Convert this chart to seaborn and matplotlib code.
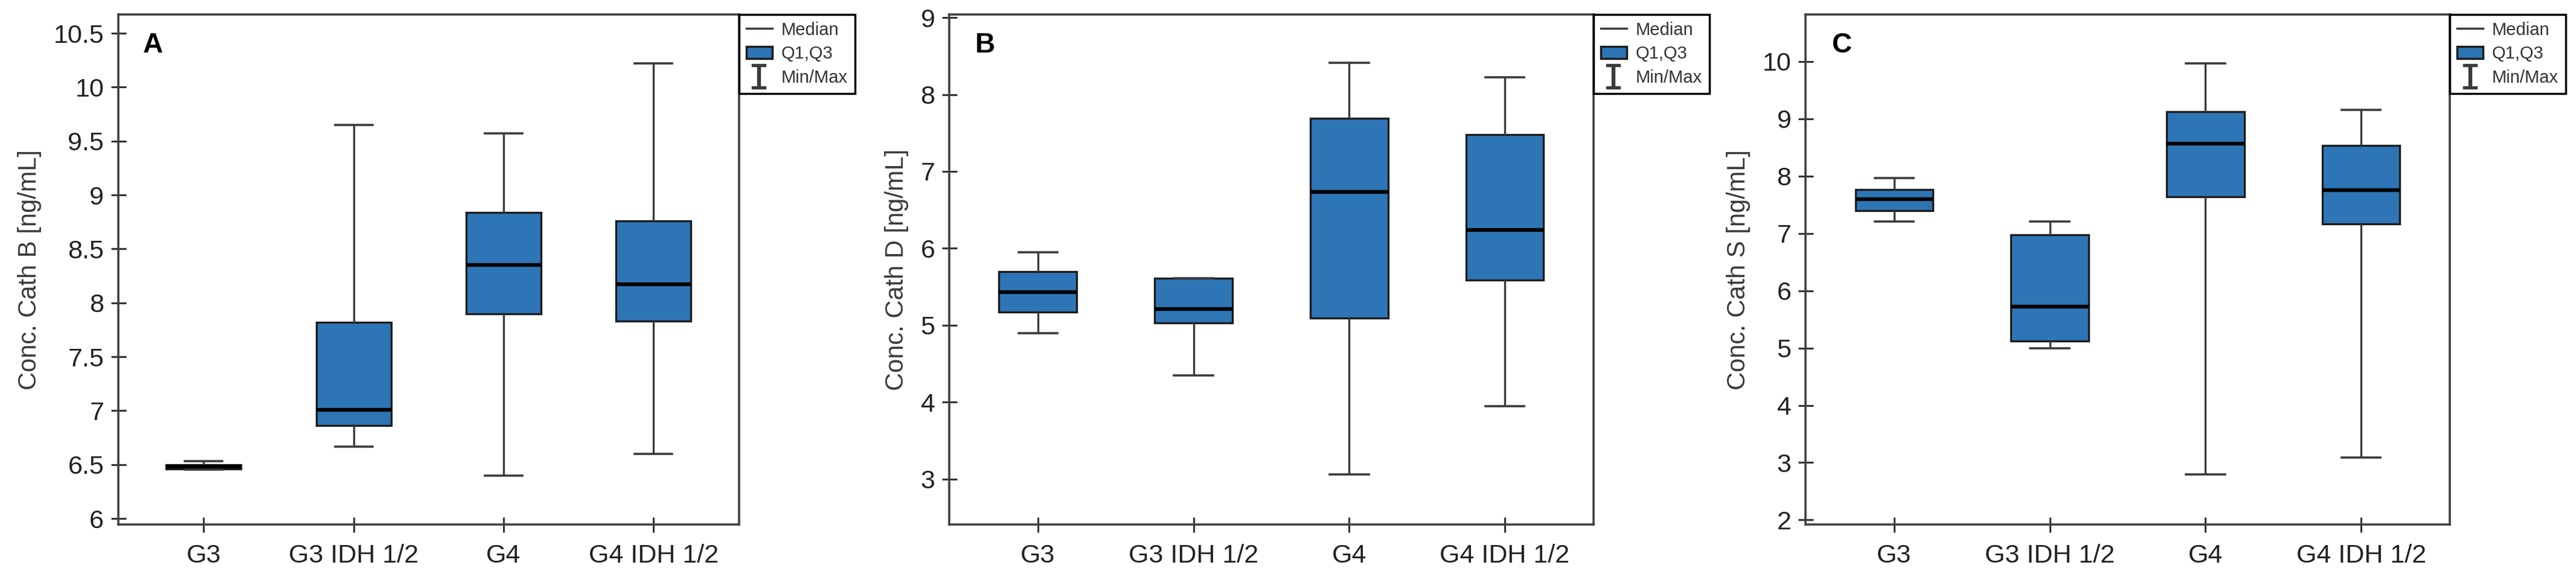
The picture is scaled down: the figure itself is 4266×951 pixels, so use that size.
import pandas as pd
import seaborn as sns
import matplotlib.pyplot as plt
from matplotlib.lines import Line2D
from matplotlib.patches import Patch
from matplotlib.ticker import FormatStrFormatter, MultipleLocator

# groups on the x axis
groups = ['G3', 'G3 IDH 1/2', 'G4', 'G4 IDH 1/2']

# five-number summaries per group: min, Q1, median, Q3, max
cath_b = [[6.455, 6.46, 6.48, 6.50, 6.53],
          [6.665, 6.86, 7.01, 7.82, 9.65],
          [6.40, 7.90, 8.35, 8.84, 9.57],
          [6.60, 7.83, 8.17, 8.76, 10.22]]
cath_d = [[4.90, 5.17, 5.43, 5.70, 5.95],
          [4.35, 5.03, 5.21, 5.61, 5.61],
          [3.06, 5.09, 6.73, 7.69, 8.41],
          [3.95, 5.59, 6.24, 7.48, 8.22]]
cath_s = [[7.21, 7.40, 7.60, 7.77, 7.97],
          [5.00, 5.12, 5.72, 6.98, 7.21],
          [2.79, 7.64, 8.57, 9.12, 9.97],
          [3.09, 7.16, 7.75, 8.53, 9.16]]

panel_letters = ['A', 'B', 'C']
y_labels = ['Conc. Cath B [ng/mL]', 'Conc. Cath D [ng/mL]', 'Conc. Cath S [ng/mL]']
legend_labels = ['Median', 'Q1,Q3', 'Min/Max']

box_color = '#2E75B6'
edge_color = '#1c1c1c'
line_gray = '#3a3a3a'

plt.rcParams['font.family'] = ['Liberation Sans', 'DejaVu Sans']

fig = plt.figure(figsize=(42.66, 9.51), dpi=100)

# axes placement (figure fractions)
panel_pos = [[0.0459, 0.0862, 0.2410, 0.8886],
             [0.3685, 0.0862, 0.2501, 0.8886],
             [0.7009, 0.0862, 0.2501, 0.8886]]
y_limits = [(5.944, 10.674), (2.41, 9.04), (1.92, 10.82)]
y_steps = [0.5, 1, 1]


def make_df(stats):
    rows = []
    for g, vals in zip(groups, stats):
        for v in vals:
            rows.append({'group': g, 'value': v})
    return pd.DataFrame(rows)


for i, stats in enumerate([cath_b, cath_d, cath_s]):
    ax = fig.add_axes(panel_pos[i])
    df = make_df(stats)
    sns.boxplot(data=df, x='group', y='value', order=groups, ax=ax,
                whis=(0, 100), width=0.5, color=box_color, saturation=1,
                linecolor=edge_color, linewidth=2.4, fliersize=0,
                medianprops=dict(color='black', linewidth=4.5),
                whiskerprops=dict(color=line_gray, linewidth=2.4),
                capprops=dict(color=line_gray, linewidth=2.6))

    ax.set_xlim(-0.57, 3.57)
    ax.set_ylim(*y_limits[i])
    ax.yaxis.set_major_locator(MultipleLocator(y_steps[i]))
    ax.yaxis.set_major_formatter(FormatStrFormatter('%g'))
    ax.set_xlabel('')
    ax.set_ylabel(y_labels[i], fontsize=30, color='#3a3a3a', labelpad=14)
    ax.tick_params(axis='both', direction='inout', length=18, width=2.2,
                   color='#333333', labelsize=31, labelcolor='#222222', pad=8)
    ax.tick_params(axis='x', pad=14)
    for side in ['top', 'right', 'bottom', 'left']:
        ax.spines[side].set_visible(True)
        ax.spines[side].set_linewidth(2.6)
        ax.spines[side].set_color('#404040')

    ax.text(0.04, 0.966, panel_letters[i], transform=ax.transAxes,
            fontsize=33, fontweight='bold', ha='left', va='top', color='black')

    handles = [Line2D([], [], color=line_gray, lw=2.5),
               Patch(facecolor=box_color, edgecolor=edge_color, linewidth=2.5),
               Line2D([], [], color=line_gray, marker=r'$\mathtt{I}$',
                      linestyle='none', markersize=30, markeredgewidth=0.3)]
    leg = ax.legend(handles, legend_labels, loc='upper left',
                    bbox_to_anchor=(1.0, 1.0), borderaxespad=0, fontsize=21,
                    frameon=True, fancybox=False, edgecolor='black',
                    framealpha=1, handlelength=1.5, handletextpad=0.5,
                    labelspacing=0.4, borderpad=0.4)
    leg.get_frame().set_linewidth(2.5)
    for t in leg.get_texts():
        t.set_color('#333333')

fig.savefig('out.png', dpi=100)
